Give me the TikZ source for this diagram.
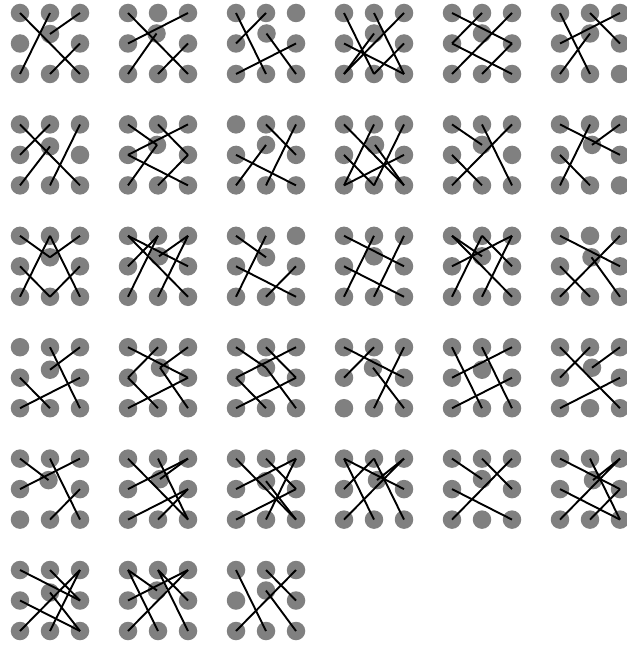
\documentclass[tikz,border=0pt]{standalone}
\usepackage{xcolor}
\usepackage{tikz}

\definecolor{dotgray}{RGB}{128,128,128}

% one 3x3 panel: column, row, shift of the middle dot, list of links
\newcommand{\dotpanel}[5]{%
  \begin{scope}[shift={({20+108*#1},{13+111.4*#2})}]
    \foreach \n/\px/\py in {tl/0/0,tm/30/0,tr/60/0,ml/0/30.5,mr/60/30.5,
                            bl/0/61,bm/30/61,br/60/61}
      \node[spot] (\n) at (\px,\py) {};
    \node[spot] (c) at ({30+#3},{30.5+#4}) {};
    \foreach \a/\b in {#5}
      \draw[link] (\a.center) -- (\b.center);
  \end{scope}}

\begin{document}
\begin{tikzpicture}[
  x=0.03cm,y=-0.03cm,
  spot/.style={circle,fill=dotgray,inner sep=0pt,minimum size=0.555cm},
  link/.style={line width=0.057cm,black}
]
\useasboundingbox (0,0) rectangle (627,648);
\clip (0,0) rectangle (627,648);

% row 1
\dotpanel{0}{0}{0}{-9.5}{tl/br,tm/bl,tr/c,mr/bm}
\dotpanel{1}{0}{-1.5}{-10}{tl/br,tr/ml,c/bl,mr/bm}
\dotpanel{2}{0}{0.5}{-10}{tl/bm,tm/ml,c/br,mr/bl}
\dotpanel{3}{0}{0}{-10}{tl/bm,bm/mr,tm/br,ml/br,tr/bl,c/bl}
\dotpanel{4}{0}{0}{-10}{tl/mr,mr/bm,tm/ml,ml/br,tr/bl}
\dotpanel{5}{0}{0}{-10}{tl/bm,tm/mr,tr/ml,c/bl}
% row 2
\dotpanel{0}{1}{0}{-8.5}{tl/br,tm/ml,c/bl,tr/bm}
\dotpanel{1}{1}{-1}{-10}{tl/c,c/bl,tm/mr,mr/bm,tr/ml,ml/br}
\dotpanel{2}{1}{0}{-10}{tm/mr,tr/bm,c/bl,ml/br}
\dotpanel{3}{1}{1}{-10}{tl/br,tm/bl,bl/mr,tr/bm,ml/bm,c/br}
\dotpanel{4}{1}{0}{-10}{tl/c,tm/br,tr/bl,ml/bm}
\dotpanel{5}{1}{2}{-10}{tl/mr,tm/bl,tr/c,ml/bm}
% row 3
\dotpanel{0}{2}{0}{-9}{tl/c,c/tr,tm/bl,tm/br,ml/bm,bm/mr}
\dotpanel{1}{2}{1}{-10}{tl/mr,tl/br,tm/ml,tm/bl,tr/c,tr/bm}
\dotpanel{2}{2}{0}{-9}{tl/c,tm/bl,ml/br,mr/bm}
\dotpanel{3}{2}{0}{-10}{tl/mr,tm/bl,tr/bm,ml/br}
\dotpanel{4}{2}{0}{-10}{tl/c,tl/br,tm/bl,tm/mr,tr/ml,tr/bm}
\dotpanel{5}{2}{1.5}{-9}{tl/mr,tr/bl,c/br,ml/bm}
% row 4
\dotpanel{0}{3}{0}{-8}{tm/br,tr/c,ml/bm,mr/bl}
\dotpanel{1}{3}{2}{-10}{tl/mr,tm/ml,ml/bm,tr/c,c/br,mr/bl}
\dotpanel{2}{3}{0}{-10}{tl/c,c/br,tm/mr,mr/bl,tr/ml,ml/bm}
\dotpanel{3}{3}{-1}{-10}{tl/mr,tm/ml,tr/bm,c/br}
\dotpanel{4}{3}{0}{-8}{tl/bm,tm/br,tr/ml,mr/bl}
\dotpanel{5}{3}{2}{-10}{tl/br,tm/ml,tr/c,mr/bl}
% row 5
\dotpanel{0}{4}{-1.5}{-9}{tl/c,tm/br,tr/ml,mr/bm}
\dotpanel{1}{4}{2}{-10}{tl/br,tm/br,tr/ml,tr/c,mr/bl,mr/bm}
\dotpanel{2}{4}{0}{-8}{tl/br,tm/mr,mr/bl,tr/ml,tr/bm,c/br}
\dotpanel{3}{4}{3}{-9}{tl/mr,tl/bm,tm/ml,tm/br,tr/bl,tr/c}
\dotpanel{4}{4}{0}{-10}{tl/c,tm/mr,tr/bl,ml/br}
\dotpanel{5}{4}{3}{-9}{tl/mr,tm/br,tr/c,tr/bl,mr/bm,ml/br}
% row 6
\dotpanel{0}{5}{0}{-8}{tl/mr,tm/mr,tr/bl,tr/bm,ml/br,c/br}
\dotpanel{1}{5}{-1}{-10}{tl/c,tl/bm,tm/mr,tm/br,tr/ml,tr/bl}
\dotpanel{2}{5}{0}{-10}{tl/bm,tm/mr,tr/bl,c/br}
\end{tikzpicture}
\end{document}
